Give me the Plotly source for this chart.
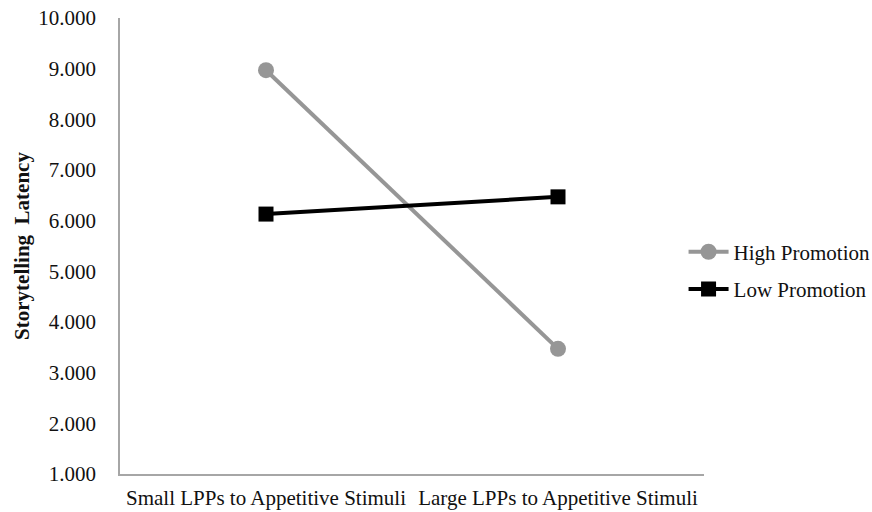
import plotly.graph_objects as go

categories = ["Small LPPs to Appetitive Stimuli", "Large LPPs to Appetitive Stimuli"]
high_promotion = [8.97, 3.47]
low_promotion = [6.13, 6.47]
y_ticks = [1, 2, 3, 4, 5, 6, 7, 8, 9, 10]

FONT = "Liberation Serif, Times New Roman, serif"

fig = go.Figure()
fig.add_trace(go.Scatter(
    x=categories, y=high_promotion, name="High Promotion", mode="lines+markers",
    line=dict(color="#969696", width=4),
    marker=dict(symbol="circle", size=16, color="#969696"),
    legendgroup="a",
))
fig.add_trace(go.Scatter(
    x=categories, y=low_promotion, name="Low Promotion", mode="lines+markers",
    line=dict(color="#000000", width=4),
    marker=dict(symbol="square", size=15, color="#000000"),
    legendgroup="b",
))

fig.update_layout(
    width=872, height=512,
    margin=dict(l=120, r=168, t=18, b=38, autoexpand=False),
    paper_bgcolor="white", plot_bgcolor="white",
    font=dict(family=FONT, size=21, color="#111111"),
    showlegend=True,
    legend=dict(x=0.965, y=0.446, xanchor="left", yanchor="middle",
                traceorder="grouped", tracegroupgap=7,
                font=dict(family=FONT, size=21, color="#111111"),
                bgcolor="rgba(0,0,0,0)", itemwidth=40),
    xaxis=dict(
        type="category", range=[-0.5, 1.5], automargin=False,
        showline=True, linecolor="#a6a6a6", linewidth=1.5,
        showgrid=False, zeroline=False, ticks="",
        tickfont=dict(family=FONT, size=21, color="#111111"),
        ticklabelstandoff=4,
    ),
    yaxis=dict(
        range=[1, 10], tickvals=y_ticks, automargin=False,
        ticktext=[f"{v:.3f}" for v in y_ticks],
        showline=True, linecolor="#a6a6a6", linewidth=1.5,
        showgrid=False, zeroline=False, ticks="",
        tickfont=dict(family=FONT, size=21, color="#111111"),
        ticklabelstandoff=18, ticklabeloverflow="allow",
    ),
    annotations=[dict(
        text="<b>Storytelling\u00a0\u00a0Latency</b>", textangle=-90,
        xref="paper", yref="paper", x=-0.168, y=0.5,
        xanchor="center", yanchor="middle", showarrow=False,
        font=dict(family=FONT, size=21, color="#111111"),
    )],
)

fig.write_html("out.html", config={"displayModeBar": False},
               post_script="document.body.style.margin='0px';")
